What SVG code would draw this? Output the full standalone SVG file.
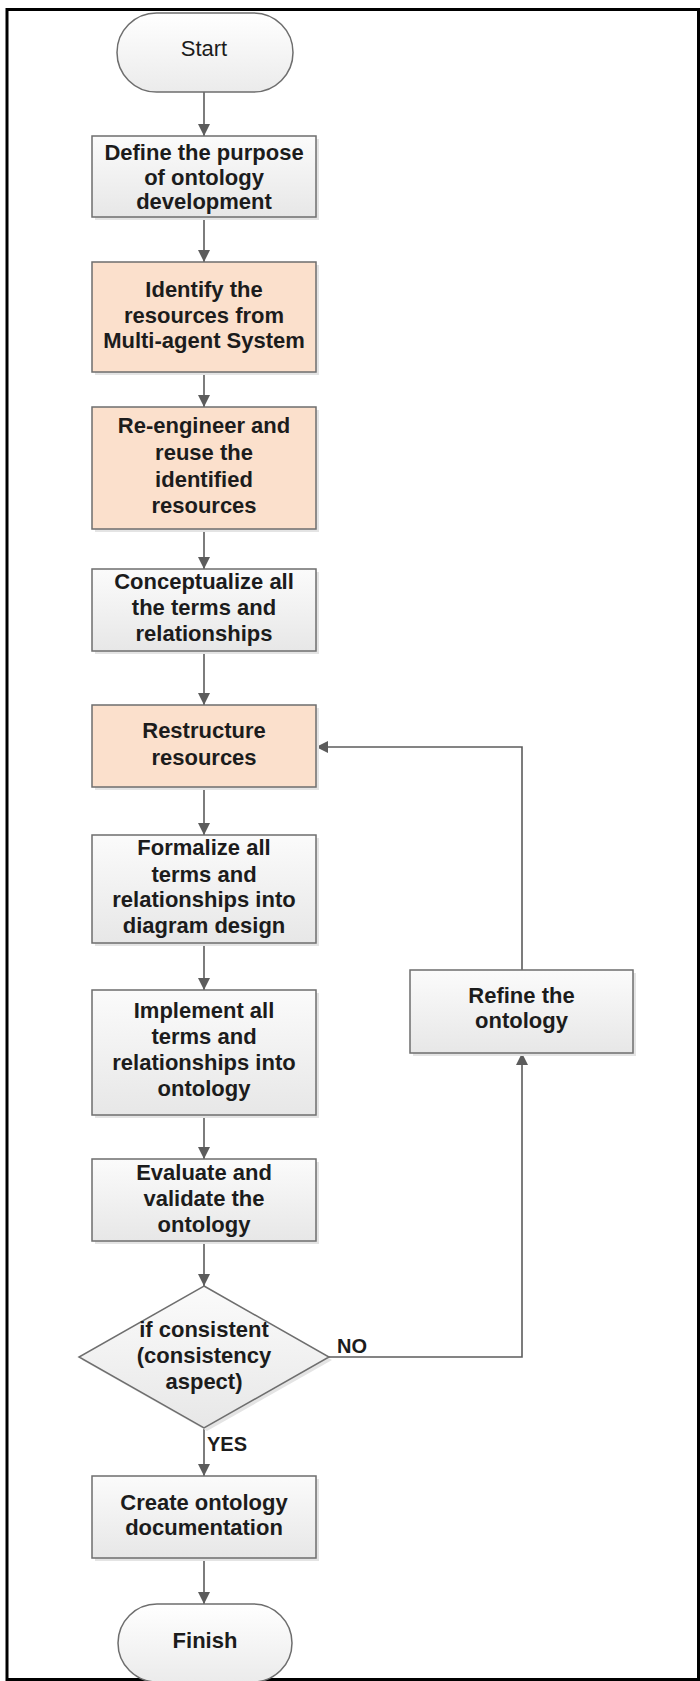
<svg xmlns="http://www.w3.org/2000/svg" width="700" height="1681" viewBox="0 0 700 1681">
<style>
.box{stroke:#6e6e6e;stroke-width:1.5}
.g{fill:url(#gGray)}
.o{fill:#fbe0cc}
.sh{fill:#e4e4e4}
.t{font-family:"Liberation Sans",Arial,sans-serif;font-size:22px;font-weight:bold;fill:#1c1c1c;text-anchor:middle}
.r{font-weight:normal}
.lbl{font-family:"Liberation Sans",Arial,sans-serif;font-size:20px;font-weight:bold;fill:#1c1c1c}
.c{fill:none;stroke:#5c5c5c;stroke-width:1.6}
</style>
<defs>
<linearGradient id="gGray" x1="0" y1="0" x2="0" y2="1">
<stop offset="0" stop-color="#fbfbfb"/>
<stop offset="1" stop-color="#e7e7e7"/>
</linearGradient>
<linearGradient id="gTerm" x1="0" y1="0" x2="0" y2="1">
<stop offset="0" stop-color="#ffffff"/>
<stop offset="1" stop-color="#ebebeb"/>
</linearGradient>
<marker id="ah" markerUnits="userSpaceOnUse" markerWidth="12" markerHeight="12" refX="12" refY="6" orient="auto">
<path d="M0,0 L12,6 L0,12 z" fill="#5c5c5c"/>
</marker>
</defs>
<rect x="0" y="0" width="700" height="1681" fill="#ffffff"/>
<rect x="7" y="9.5" width="691.5" height="1670" fill="none" stroke="#000000" stroke-width="3"/>

<g id="connectors">
<line class="c" x1="204" y1="92" x2="204" y2="136" marker-end="url(#ah)"/>
<line class="c" x1="204" y1="217" x2="204" y2="262" marker-end="url(#ah)"/>
<line class="c" x1="204" y1="372" x2="204" y2="407" marker-end="url(#ah)"/>
<line class="c" x1="204" y1="529" x2="204" y2="569" marker-end="url(#ah)"/>
<line class="c" x1="204" y1="651" x2="204" y2="705" marker-end="url(#ah)"/>
<line class="c" x1="204" y1="787" x2="204" y2="835" marker-end="url(#ah)"/>
<line class="c" x1="204" y1="943" x2="204" y2="990" marker-end="url(#ah)"/>
<line class="c" x1="204" y1="1115" x2="204" y2="1159" marker-end="url(#ah)"/>
<line class="c" x1="204" y1="1241" x2="204" y2="1286" marker-end="url(#ah)"/>
<line class="c" x1="204" y1="1428" x2="204" y2="1476" marker-end="url(#ah)"/>
<line class="c" x1="204" y1="1558" x2="204" y2="1604" marker-end="url(#ah)"/>
<polyline class="c" points="329,1357 522,1357 522,1053" marker-end="url(#ah)"/>
<polyline class="c" points="522,970 522,747 316,747" marker-end="url(#ah)"/>
<text class="lbl" x="337" y="1353">NO</text>
<text class="lbl" x="207" y="1451">YES</text>
</g>

<g id="start">
<rect class="box" x="117" y="13" width="176" height="79" rx="39.5" fill="url(#gTerm)"/>
<text class="t r" x="204" y="56">Start</text>
</g>

<g id="define">
<rect class="sh" x="95" y="139" width="224" height="81"/>
<rect class="box g" x="92" y="136" width="224" height="81"/>
<text class="t" x="204" y="160">Define the purpose</text>
<text class="t" x="204" y="184.5">of ontology</text>
<text class="t" x="204" y="209">development</text>
</g>

<g id="identify">
<rect class="sh" x="95" y="265" width="224" height="110"/>
<rect class="box o" x="92" y="262" width="224" height="110"/>
<text class="t" x="204" y="297">Identify the</text>
<text class="t" x="204" y="323">resources from</text>
<text class="t" x="204" y="348">Multi-agent System</text>
</g>

<g id="reengineer">
<rect class="sh" x="95" y="410" width="224" height="122"/>
<rect class="box o" x="92" y="407" width="224" height="122"/>
<text class="t" x="204" y="433">Re-engineer and</text>
<text class="t" x="204" y="460">reuse the</text>
<text class="t" x="204" y="487">identified</text>
<text class="t" x="204" y="513">resources</text>
</g>

<g id="conceptualize">
<rect class="sh" x="95" y="572" width="224" height="82"/>
<rect class="box g" x="92" y="569" width="224" height="82"/>
<text class="t" x="204" y="589">Conceptualize all</text>
<text class="t" x="204" y="615">the terms and</text>
<text class="t" x="204" y="641">relationships</text>
</g>

<g id="restructure">
<rect class="sh" x="95" y="708" width="224" height="82"/>
<rect class="box o" x="92" y="705" width="224" height="82"/>
<text class="t" x="204" y="738">Restructure</text>
<text class="t" x="204" y="765">resources</text>
</g>

<g id="formalize">
<rect class="sh" x="95" y="838" width="224" height="108"/>
<rect class="box g" x="92" y="835" width="224" height="108"/>
<text class="t" x="204" y="855">Formalize all</text>
<text class="t" x="204" y="882">terms and</text>
<text class="t" x="204" y="907">relationships into</text>
<text class="t" x="204" y="933">diagram design</text>
</g>

<g id="implement">
<rect class="sh" x="95" y="993" width="224" height="125"/>
<rect class="box g" x="92" y="990" width="224" height="125"/>
<text class="t" x="204" y="1018">Implement all</text>
<text class="t" x="204" y="1044">terms and</text>
<text class="t" x="204" y="1070">relationships into</text>
<text class="t" x="204" y="1096">ontology</text>
</g>

<g id="evaluate">
<rect class="sh" x="95" y="1162" width="224" height="82"/>
<rect class="box g" x="92" y="1159" width="224" height="82"/>
<text class="t" x="204" y="1180">Evaluate and</text>
<text class="t" x="204" y="1206">validate the</text>
<text class="t" x="204" y="1232">ontology</text>
</g>

<g id="decision">
<polygon class="sh" points="207,1289 332,1360 207,1431 82,1360"/>
<polygon class="box g" points="204,1286 329,1357 204,1428 79,1357"/>
<text class="t" x="204" y="1337">if consistent</text>
<text class="t" x="204" y="1363">(consistency</text>
<text class="t" x="204" y="1389">aspect)</text>
</g>

<g id="refine">
<rect class="sh" x="413" y="973" width="223" height="83"/>
<rect class="box g" x="410" y="970" width="223" height="83"/>
<text class="t" x="521.5" y="1003">Refine the</text>
<text class="t" x="521.5" y="1028">ontology</text>
</g>

<g id="create">
<rect class="sh" x="95" y="1479" width="224" height="82"/>
<rect class="box g" x="92" y="1476" width="224" height="82"/>
<text class="t" x="204" y="1510">Create ontology</text>
<text class="t" x="204" y="1535">documentation</text>
</g>

<g id="finish">
<rect class="box" x="118" y="1604" width="174" height="78" rx="39" fill="url(#gTerm)"/>
<text class="t" x="205" y="1648">Finish</text>
</g>
</svg>
